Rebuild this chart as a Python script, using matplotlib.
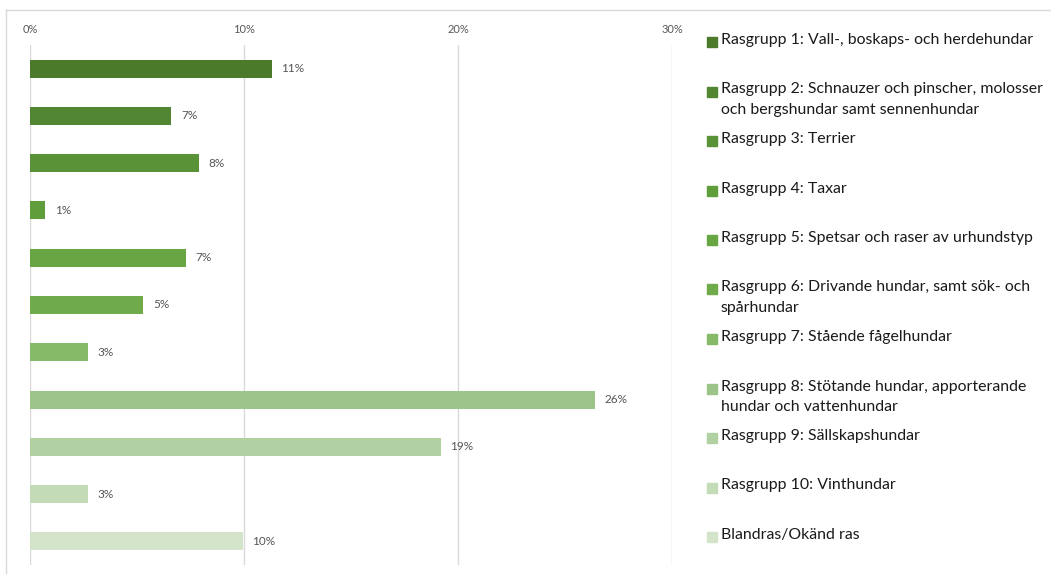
import matplotlib.pyplot as plt
from matplotlib.patches import Rectangle
from matplotlib.lines import Line2D

plt.rcParams['font.family'] = ['Lato', 'DejaVu Sans']

groups = [
    'Rasgrupp 1: Vall-, boskaps- och herdehundar',
    'Rasgrupp 2: Schnauzer och pinscher, molosser\noch bergshundar samt sennenhundar',
    'Rasgrupp 3: Terrier',
    'Rasgrupp 4: Taxar',
    'Rasgrupp 5: Spetsar och raser av urhundstyp',
    'Rasgrupp 6: Drivande hundar, samt sök- och\nspårhundar',
    'Rasgrupp 7: Stående fågelhundar',
    'Rasgrupp 8: Stötande hundar, apporterande\nhundar och vattenhundar',
    'Rasgrupp 9: Sällskapshundar',
    'Rasgrupp 10: Vinthundar',
    'Blandras/Okänd ras',
]
shares = [11.3, 6.6, 7.9, 0.7, 7.3, 5.3, 2.7, 26.4, 19.2, 2.7, 9.95]
colors = ['#4b7a2b', '#528632', '#5a9237', '#609d3b', '#68a543', '#70ab4b',
          '#86b968', '#9cc489', '#b2d1a2', '#c3dbb6', '#d4e4cb']
ticks = [0, 10, 20, 30]

fig = plt.figure(figsize=(10.51, 5.74), dpi=100)
ax = fig.add_axes([30 / 1051, 9 / 574, 642 / 1051, 520 / 574])

y = list(range(len(shares)))
ax.barh(y, shares, height=0.38, color=colors, zorder=3)
for i, v in enumerate(shares):
    ax.text(v + 0.45, i, f'{v:.0f}%', va='center', ha='left',
            fontsize=8.5, color='#555555')

ax.set_xlim(0, 30)
ax.set_ylim(10.5, -0.5)
ax.set_xticks(ticks)
ax.set_xticklabels([f'{t}%' for t in ticks], fontsize=8, color='#595959')
ax.xaxis.tick_top()
ax.tick_params(axis='x', length=0, pad=7)
ax.set_yticks([])
ax.grid(axis='x', color='#d9d9d9', linewidth=1, zorder=0)
for s in ax.spines.values():
    s.set_visible(False)

# legend drawn by hand, one entry every 49.5 px
for i, (lab, c) in enumerate(zip(groups, colors)):
    ytop = 1 - (33 + 49.5 * i) / 574
    fig.patches.append(Rectangle((707 / 1051, ytop - 14 / 574), 10 / 1051, 10 / 574,
                                 transform=fig.transFigure, color=c))
    fig.text(721 / 1051, ytop, lab, va='top', ha='left', fontsize=11.4,
             color='#1a1a1a', linespacing=1.6)

# chart frame
fig.add_artist(Line2D([6 / 1051, 1], [1 - 10 / 574] * 2, transform=fig.transFigure,
                      color='#d9d9d9', linewidth=1))
fig.add_artist(Line2D([6 / 1051] * 2, [0, 1 - 10 / 574], transform=fig.transFigure,
                      color='#d9d9d9', linewidth=1))

fig.savefig('out.png', dpi=100)
